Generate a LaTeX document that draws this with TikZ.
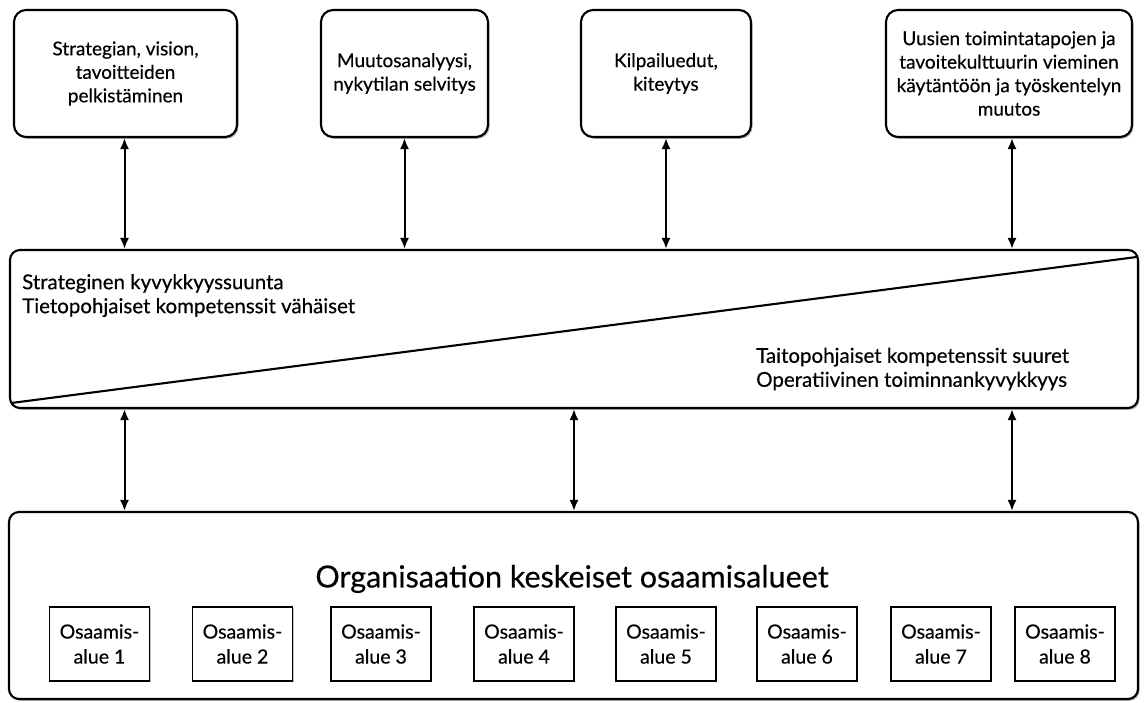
\documentclass[tikz,border=0pt]{standalone}
\usepackage{fontspec}
\setmainfont{Lato}[FakeBold=0.4]
\usetikzlibrary{arrows.meta,shadows,calc}
\begin{document}
\begin{tikzpicture}[x=1pt,y=-1pt,
  softshadow/.style={drop shadow={shadow xshift=1.5pt,shadow yshift=-1.8pt,opacity=0.3,fill=black}},
  topbox/.style={draw,line width=2.1pt,rounded corners=12pt,fill=white,align=center,
    font=\fontsize{19}{23.5}\selectfont,minimum height=127pt,inner sep=2pt,softshadow},
  bigbox/.style={draw,line width=2.1pt,rounded corners=10pt,fill=white,inner sep=0pt,softshadow},
  areabox/.style={draw,line width=1.4pt,fill=white,align=center,minimum width=100pt,
    minimum height=74pt,inner sep=0pt,font=\fontsize{19.5}{25}\selectfont,
    drop shadow={shadow xshift=1pt,shadow yshift=-1.2pt,opacity=0.25,fill=black}},
  sidetext/.style={align=left,inner sep=0pt,font=\fontsize{20.5}{24}\selectfont},
  biarrow/.style={{Latex[length=11pt,width=9pt]}-{Latex[length=11pt,width=9pt]},line width=2pt},
  diag/.style={line width=2.1pt}]
\useasboundingbox (0,0) rectangle (1144,702);

% upper row of themes
\node[topbox,minimum width=223pt] (t1) at (125.5,73.5) {Strategian, vision,\\tavoitteiden\\pelkistäminen};
\node[topbox,minimum width=167pt] (t2) at (404.5,73.5) {Muutosanalyysi,\\nykytilan selvitys};
\node[topbox,minimum width=170pt] (t3) at (666,73.5) {Kilpailuedut,\\kiteytys};
\node[topbox,minimum width=246pt] (t4) at (1009,73.5) {Uusien toimintatapojen ja\\tavoitekulttuurin vieminen\\käytäntöön ja työskentelyn\\muutos};

% capability band with its diagonal split
\node[bigbox,minimum width=1128pt,minimum height=158pt] (mid) at (574,329) {};
\draw[diag] ($(mid.south west)+(2,-6)$) -- ($(mid.north east)+(-2,8)$);
\node[sidetext,anchor=west] (ltext) at (22,295.5) {Strateginen kyvykkyyssuunta\\Tietopohjaiset kompetenssit vähäiset};
\node[sidetext,anchor=west] (rtext) at (756,369) {Taitopohjaiset kompetenssit suuret\\Operatiivinen toiminnankyvykkyys};

% core competence areas
\node[bigbox,minimum width=1129pt,minimum height=187pt] (bot) at (573.5,605.5) {};
\node[inner sep=0pt,font=\fontsize{30.5}{36}\selectfont] (title) at (572,579) {Organisaation keskeiset osaamisalueet};
\node[areabox] (a1) at (99.5,644) {Osaamis-\\alue 1};
\node[areabox] (a2) at (242.5,644) {Osaamis-\\alue 2};
\node[areabox] (a3) at (381,644) {Osaamis-\\alue 3};
\node[areabox] (a4) at (524,644) {Osaamis-\\alue 4};
\node[areabox] (a5) at (666,644) {Osaamis-\\alue 5};
\node[areabox] (a6) at (807,644) {Osaamis-\\alue 6};
\node[areabox] (a7) at (941,644) {Osaamis-\\alue 7};
\node[areabox] (a8) at (1065,644) {Osaamis-\\alue 8};

% connectors
\coordinate (x1) at ($(t1.south)+(-1,0)$);
\coordinate (x4) at ($(t4.south)+(3,0)$);
\draw[biarrow] (x1) -- (x1 |- mid.north);
\draw[biarrow] (t2.south) -- (t2.south |- mid.north);
\draw[biarrow] (t3.south) -- (t3.south |- mid.north);
\draw[biarrow] (x4) -- (x4 |- mid.north);
\draw[biarrow] (x1 |- mid.south) -- (x1 |- bot.north);
\draw[biarrow] (mid.south) -- (mid.south |- bot.north);
\draw[biarrow] (x4 |- mid.south) -- (x4 |- bot.north);
\end{tikzpicture}
\end{document}
